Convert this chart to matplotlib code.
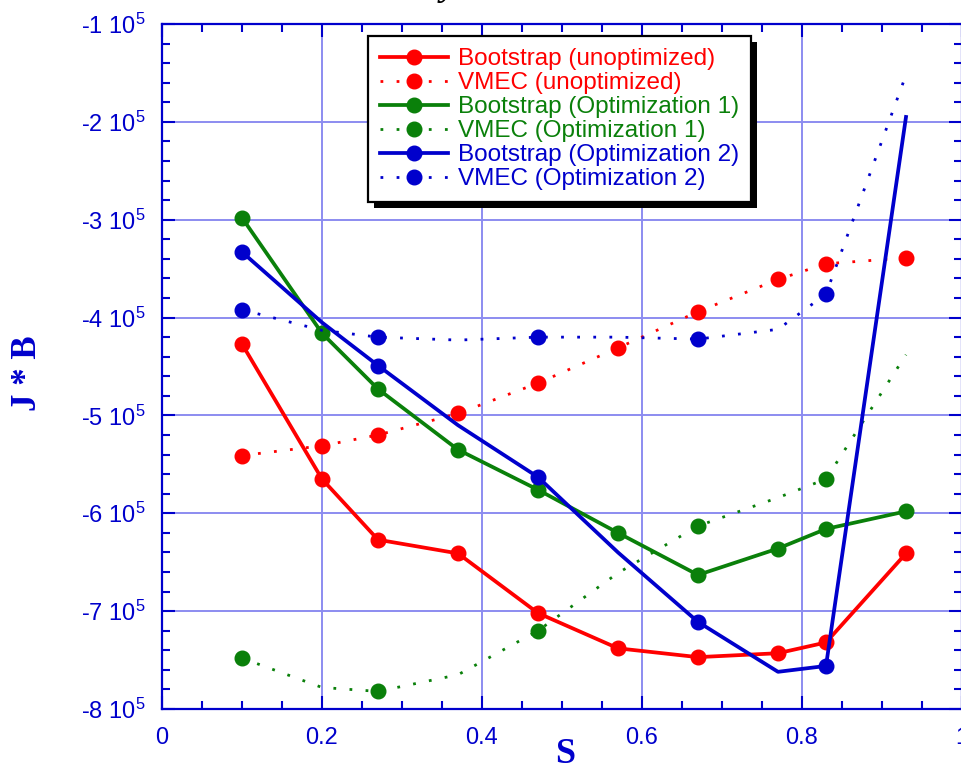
import matplotlib
matplotlib.use("Agg")
import matplotlib.pyplot as plt
from matplotlib.ticker import MultipleLocator, FuncFormatter
from matplotlib.patches import Rectangle

plt.rcParams['font.family'] = ['Liberation Sans', 'DejaVu Sans']
plt.rcParams['mathtext.fontset'] = 'custom'
plt.rcParams['mathtext.rm'] = 'Liberation Sans'
plt.rcParams['mathtext.it'] = 'Liberation Sans:italic'
plt.rcParams['mathtext.bf'] = 'Liberation Sans:bold'

# values in units of 1e5
s = [0.1, 0.2, 0.27, 0.37, 0.47, 0.57, 0.67, 0.77, 0.83, 0.93]
boot_unopt = [-4.27, -5.65, -6.27, -6.41, -7.02, -7.38, -7.47, -7.43, -7.32, -6.41]
vmec_unopt = [-5.41, -5.31, -5.20, -4.98, -4.67, -4.31, -3.94, -3.61, -3.45, -3.39]
boot_opt1 = [-2.98, -4.16, -4.73, -5.35, -5.76, -6.20, -6.63, -6.36, -6.16, -5.98]
vmec_opt1 = [-7.48, -7.78, -7.82, -7.65, -7.20, -6.61, -6.13, -5.84, -5.65, -4.38]
boot_opt2 = [-3.33, -4.05, -4.49, -5.10, -5.63, -6.40, -7.11, -7.62, -7.56, -1.95]
vmec_opt2 = [-3.92, -4.13, -4.20, -4.23, -4.20, -4.20, -4.22, -4.12, -3.76, -1.52]
SCALE = 1e5

RED = '#ff0000'
GREEN = '#0a800a'
BLUE = '#0000cc'
GRID = '#8c8cf0'

every = list(range(len(s)))
sparse = [0, 2, 4, 6, 8]
DOT = (0, (1, 4.8))

series = [
  (boot_unopt, RED, '-', every, 'Bootstrap (unoptimized)'),
  (vmec_unopt, RED, DOT, every, 'VMEC (unoptimized)'),
  (boot_opt1, GREEN, '-', every, 'Bootstrap (Optimization 1)'),
  (vmec_opt1, GREEN, DOT, sparse, 'VMEC (Optimization 1)'),
  (boot_opt2, BLUE, '-', sparse, 'Bootstrap (Optimization 2)'),
  (vmec_opt2, BLUE, DOT, sparse, 'VMEC (Optimization 2)'),
]

fig = plt.figure(figsize=(9.62, 7.67), dpi=100)
ax = fig.add_axes([162/962, 58/767, 800/962, 685/767])

for vals, color, ls, mk, label in series:
  lw = 2.7 if ls == '-' else 2.0
  ax.plot(s, [v*SCALE for v in vals], color=color, linestyle=ls, linewidth=lw,
          marker='o', markersize=10.5, markevery=mk, label=label, zorder=3)

ax.set_xlim(0, 1)
ax.set_ylim(-8e5, -1e5)
ax.xaxis.set_major_locator(MultipleLocator(0.2))
ax.xaxis.set_minor_locator(MultipleLocator(0.05))
ax.yaxis.set_major_locator(MultipleLocator(1e5))
ax.yaxis.set_minor_locator(MultipleLocator(2e4))
ax.xaxis.set_major_formatter(FuncFormatter(lambda v, p: f'{v:g}'))
ax.yaxis.set_major_formatter(FuncFormatter(lambda v, p: f'{v/SCALE:.0f} $10^{{5}}$'))

ax.grid(True, which='major', color=GRID, linewidth=1.4, zorder=0)
ax.set_axisbelow(True)
for sp in ax.spines.values():
  sp.set_color(BLUE)
  sp.set_linewidth(1.6)
ax.tick_params(which='both', direction='in', top=True, right=True, color=BLUE,
               labelcolor=BLUE, width=1.5, labelsize=17)
ax.tick_params(which='major', length=9.5)
ax.tick_params(which='minor', length=6)
ax.tick_params(axis='y', pad=12)
ax.tick_params(axis='x', pad=13)

ax.set_xlabel('S', family='Liberation Serif', fontweight='bold', fontsize=26, color=BLUE)
ax.xaxis.set_label_coords(0.504, -0.042)
ax.set_ylabel('J * B', family='Liberation Serif', fontweight='bold', fontsize=25, color=BLUE)
ax.yaxis.set_label_coords(-0.148, 0.49)

fig.text(0.466, 1.006, 'y', family='Liberation Serif', fontstyle='italic',
         fontweight='bold', fontsize=26, color='black', va='baseline', ha='center')

leg = ax.legend(loc='upper left', bbox_to_anchor=(0.2575, 0.982), borderaxespad=0,
                fontsize=17.5, handlelength=2.8, handletextpad=0.4, labelspacing=0.08,
                borderpad=0.5, numpoints=1, fancybox=False, framealpha=1,
                edgecolor='black')
leg.get_frame().set_linewidth(1.6)
leg.set_zorder(6)
for txt, (vals, color, ls, mk, label) in zip(leg.get_texts(), series):
  txt.set_color(color)

fig.canvas.draw()
bb = ax.transAxes.inverted().transform_bbox(leg.get_window_extent())
ax.add_patch(Rectangle((bb.x0 + 6/800, bb.y0 - 6/685), bb.width, bb.height,
                       facecolor='black', edgecolor='none', transform=ax.transAxes,
                       clip_on=False, zorder=5.5))

fig.savefig('out.png', dpi=100)
